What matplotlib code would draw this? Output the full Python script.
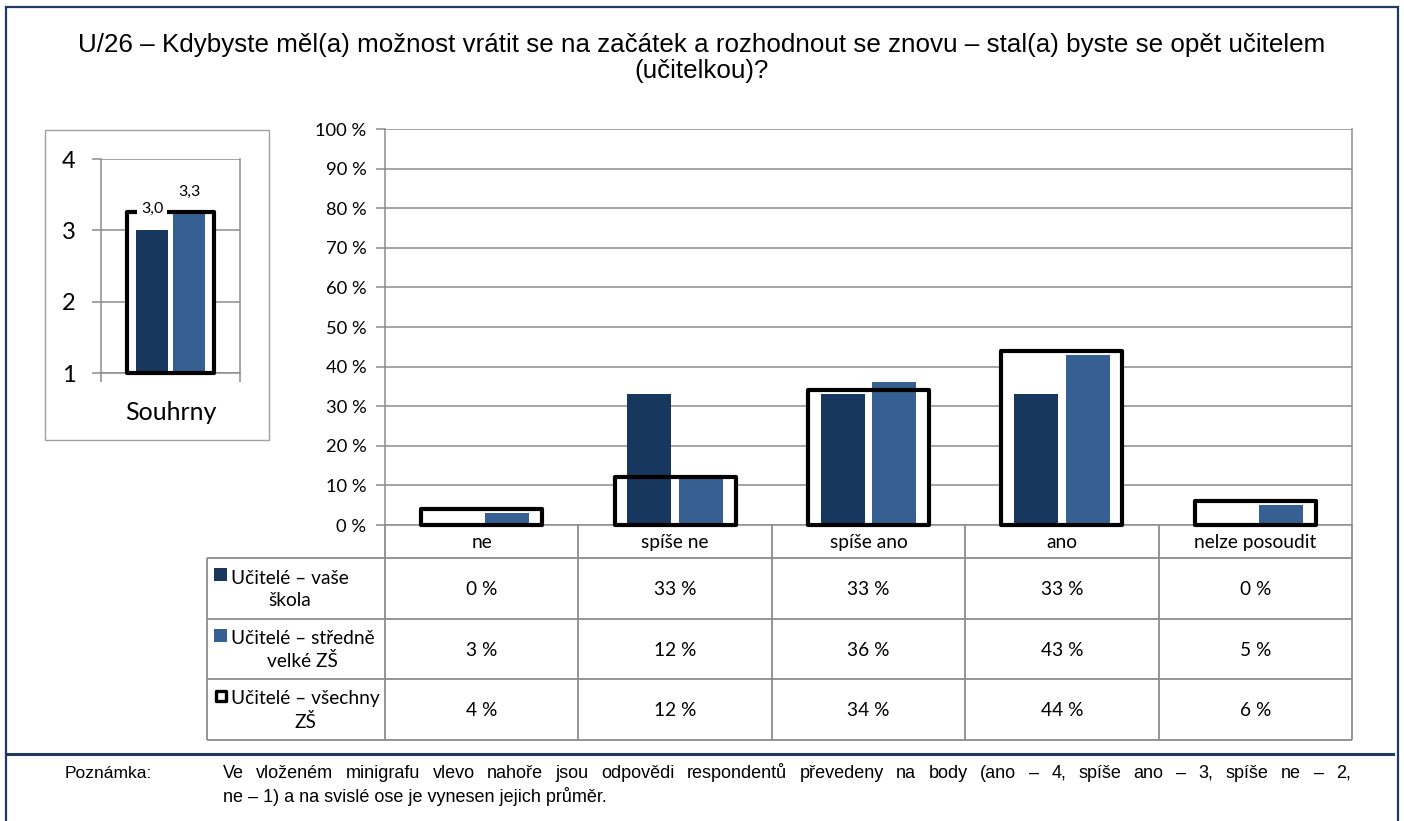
import matplotlib
matplotlib.use("Agg")
import matplotlib.pyplot as plt
from matplotlib.patches import Rectangle
import numpy as np

# ---------------- data ----------------
categories = ["ne", "spíše ne", "spíše ano", "ano", "nelze posoudit"]
series_names = ["Učitelé – vaše\nškola", "Učitelé – středně\nvelké ZŠ", "Učitelé – všechny\nZŠ"]
vase_skola = [0, 33, 33, 33, 0]
stredne_velke = [3, 12, 36, 43, 5]
vsechny_zs = [4, 12, 34, 44, 6]
y_ticks = [0, 10, 20, 30, 40, 50, 60, 70, 80, 90, 100]
y_tick_labels = [f"{v} %" for v in y_ticks]

inset_category = ["Souhrny"]
inset_vase = [3.0]
inset_stredne = [3.23]
inset_vsechny = [3.26]
inset_labels_vase = ["3,0"]
inset_labels_stredne = ["3,3"]
inset_ticks = [1, 2, 3, 4]

title = ("U/26 – Kdybyste měl(a) možnost vrátit se na začátek a rozhodnout se znovu – stal(a) byste se opět učitelem\n"
         "(učitelkou)?")
note_label = "Poznámka:"
note_line1 = ("Ve vloženém minigrafu vlevo nahoře jsou odpovědi respondentů převedeny na body "
              "(ano – 4, spíše ano – 3, spíše ne – 2,")
note_line2 = "ne – 1) a na svislé ose je vynesen jejich průměr."

# ---------------- style ----------------
W, H = 1404, 821
DARK = "#17375E"
LIGHT = "#376092"
GRID = "#8C8C8C"
FRAME = "#1F3B63"
CAL = ["Lato", "DejaVu Sans"]
ARIAL = ["Liberation Sans", "DejaVu Sans"]
TFS = 13.8

fig = plt.figure(figsize=(W / 100, H / 100), dpi=100)
fig.patch.set_facecolor("white")

def fx(px):
    return px / W

def fy(py):
    return 1 - py / H

# ---------------- main axes ----------------
L, R, T, B = 385, 1352, 129, 525
ax = fig.add_axes([fx(L), fy(B), fx(R - L), (B - T) / H])
x = np.arange(len(categories))
bw = 0.228
off = 0.133
ow = 0.626
ax.bar(x, vsechny_zs, width=ow, color="white", edgecolor="none", zorder=1)
ax.bar(x - off, vase_skola, width=bw, color=DARK, edgecolor="none", zorder=2)
ax.bar(x + off, stredne_velke, width=bw, color=LIGHT, edgecolor="none", zorder=2)
outl = ax.bar(x, vsechny_zs, width=ow, fill=False, edgecolor="black", linewidth=3.0, zorder=3)
for p in outl:
    p.set_clip_on(False)
    p.set_joinstyle("round")
ax.set_xlim(-0.5, len(categories) - 0.5)
ax.set_ylim(0, 100)
ax.set_yticks(y_ticks)
ax.set_yticklabels(y_tick_labels, fontfamily=CAL, fontsize=13.2)
ax.set_xticks([])
ax.yaxis.grid(True, color=GRID, linewidth=1.1)
ax.set_axisbelow(True)
for s in ["left", "right", "bottom"]:
    ax.spines[s].set_color(GRID)
    ax.spines[s].set_linewidth(1.1)
ax.spines["top"].set_visible(False)
ax.tick_params(axis="y", length=6.5, color=GRID, width=1.1, pad=7, labelcolor="black")

# ---------------- inset ----------------
iL, iR, iT, iB = 101, 240, 159, 373
iax = fig.add_axes([fx(iL), fy(iB), fx(iR - iL), (iB - iT) / H])
ix = np.arange(len(inset_category))
iax.bar(ix, [v - 1 for v in inset_vsechny], bottom=1, width=ow, color="white", edgecolor="none", zorder=1)
iax.bar(ix - off, [v - 1 for v in inset_vase], bottom=1, width=bw, color=DARK, zorder=2)
iax.bar(ix + off, [v - 1 for v in inset_stredne], bottom=1, width=bw, color=LIGHT, zorder=2)
io = iax.bar(ix, [v - 1 for v in inset_vsechny], bottom=1, width=ow, fill=False, edgecolor="black",
             linewidth=3.0, zorder=3)
for p in io:
    p.set_clip_on(False)
    p.set_joinstyle("round")
for i in ix:
    iax.text(i - off, inset_vsechny[i] + 0.04, inset_labels_vase[i], ha="center", va="center",
             fontfamily=CAL, fontsize=11.5, zorder=5,
             bbox=dict(boxstyle="square,pad=0.25", facecolor="white", edgecolor="none"))
    iax.text(i + off, inset_stredne[i] + 0.31, inset_labels_stredne[i], ha="center", va="center",
             fontfamily=CAL, fontsize=11.5, zorder=5)
iax.set_xlim(-0.5, 0.5)
iax.set_ylim(1, 4)
iax.set_yticks(inset_ticks)
iax.set_yticklabels([str(t) for t in inset_ticks], fontfamily=CAL, fontsize=17)
iax.set_xticks([-0.5, 0.5])
iax.set_xticklabels(["", ""])
iax.set_xticks([0], minor=True)
iax.set_xticklabels(inset_category, minor=True, fontfamily=CAL, fontsize=18)
iax.tick_params(axis="x", which="minor", length=0, pad=20)
iax.tick_params(axis="x", which="major", length=6.5, color=GRID, width=1.1)
iax.yaxis.grid(True, color=GRID, linewidth=1.1)
iax.set_axisbelow(True)
for s in ["left", "right", "bottom"]:
    iax.spines[s].set_color(GRID)
    iax.spines[s].set_linewidth(1.1)
iax.spines["top"].set_visible(False)
iax.tick_params(axis="y", length=6.5, color=GRID, width=1.1, pad=12)

# ---------------- overlay (pixel coords) ----------------
ov = fig.add_axes([0, 0, 1, 1], zorder=10)
ov.set_xlim(0, W)
ov.set_ylim(H, 0)
ov.axis("off")
ov.patch.set_alpha(0)

# inset frame
ov.add_patch(Rectangle((45, 130), 224, 310, fill=False, edgecolor="#A0A0A0", linewidth=1.0))

# outer frame + separator
ov.plot([6, 6, 1398, 1398], [H + 5, 7, 7, H + 5], color=FRAME, linewidth=1.6, solid_joinstyle="miter")
ov.plot([6, 1393], [754, 754], color=FRAME, linewidth=2.2)

# title
ov.text(702, 58, title, ha="center", va="center", fontfamily=ARIAL, fontsize=18.7,
        linespacing=1.12)

# table
cw = (R - L) / len(categories)
rows_y = [525, 558, 619, 679, 740]
tcol = 207
lc = dict(color=GRID, linewidth=1.3, solid_capstyle="butt")
for yy in rows_y[1:]:
    ov.plot([tcol, R], [yy, yy], **lc)
ov.plot([L, L], [B, rows_y[-1]], **lc)
ov.plot([R, R], [B, rows_y[-1]], **lc)
ov.plot([tcol, tcol], [rows_y[1], rows_y[-1]], **lc)
for i in range(1, len(categories)):
    xx = L + i * cw
    ov.plot([xx, xx], [B, rows_y[-1]], **lc)

for i, c in enumerate(categories):
    cx = L + (i + 0.5) * cw
    ov.text(cx, (rows_y[0] + rows_y[1]) / 2 + 1, c, ha="center", va="center", fontfamily=CAL, fontsize=TFS)

series_vals = [vase_skola, stredne_velke, vsechny_zs]
for r, vals in enumerate(series_vals):
    cy = (rows_y[r + 1] + rows_y[r + 2]) / 2
    for i, v in enumerate(vals):
        cx = L + (i + 0.5) * cw
        ov.text(cx, cy + 1, f"{v} %", ha="center", va="center", fontfamily=CAL, fontsize=TFS)
    ov.text(231, cy + 1, series_names[r], ha="left", va="center", multialignment="center",
            fontfamily=CAL, fontsize=TFS, linespacing=1.38)
    ky = cy - 13.5
    if r == 0:
        ov.add_patch(Rectangle((214, ky - 6.5), 13, 13, facecolor=DARK, edgecolor="none"))
    elif r == 1:
        ov.add_patch(Rectangle((214, ky - 6.5), 13, 13, facecolor=LIGHT, edgecolor="none"))
    else:
        ov.add_patch(Rectangle((215.5, ky - 5), 10, 10, facecolor="white", edgecolor="black",
                               linewidth=2.4, joinstyle="round"))

# note (first line justified)
NFS = 13
ov.text(65, 773, note_label, ha="left", va="center", fontfamily=ARIAL, fontsize=12.5)
x0, x1 = 223, 1351
words = note_line1.split(" ")
renderer = fig.canvas.get_renderer()
wtexts = []
total = 0.0
for w_ in words:
    t = ov.text(0, 773, w_, ha="left", va="center", fontfamily=ARIAL, fontsize=NFS)
    bb = t.get_window_extent(renderer=renderer)
    wtexts.append((t, bb.width))
    total += bb.width
gap = (x1 - x0 - total) / (len(words) - 1)
cur = x0
for t, wd in wtexts:
    t.set_x(cur)
    cur += wd + gap
ov.text(x0, 796, note_line2, ha="left", va="center", fontfamily=ARIAL, fontsize=NFS)

fig.savefig("out.png", dpi=100, facecolor="white")
